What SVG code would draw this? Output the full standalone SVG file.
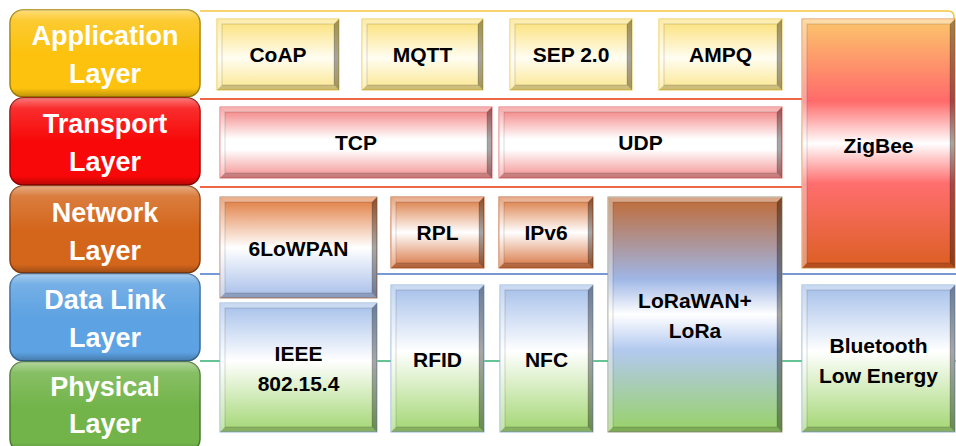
<svg xmlns="http://www.w3.org/2000/svg" width="956" height="446" viewBox="0 0 956 446">
<style>
.lt{font-family:"Liberation Sans",Arial,sans-serif;font-weight:bold;font-size:27px;fill:#fff;text-anchor:middle}
.bx{font-family:"Liberation Sans",Arial,sans-serif;font-weight:bold;font-size:21px;fill:#000;text-anchor:middle}
.bt{fill:#fff;opacity:.4}
.bl{fill:#fff;opacity:.35}
.br{fill:#000;opacity:.35}
.bb{fill:#000;opacity:.18}
.in{fill:none;stroke:#000;stroke-opacity:.15;stroke-width:1}
.gl{fill:url(#gloss)}
</style>
<defs>
<linearGradient id="gloss" x1="0" y1="0" x2="0" y2="1">
<stop offset="0" stop-color="#fff" stop-opacity=".45"/>
<stop offset=".12" stop-color="#fff" stop-opacity=".15"/>
<stop offset=".5" stop-color="#fff" stop-opacity="0"/>
<stop offset=".9" stop-color="#000" stop-opacity="0"/>
<stop offset="1" stop-color="#000" stop-opacity=".25"/>
</linearGradient>
<linearGradient id="gApp" x1="0" y1="0" x2="0" y2="1">
<stop offset="0" stop-color="#fbe074"/><stop offset=".55" stop-color="#fffdf2"/><stop offset="1" stop-color="#fbe68e"/>
</linearGradient>
<linearGradient id="gTr" x1="0" y1="0" x2="0" y2="1">
<stop offset="0" stop-color="#f27a7a"/><stop offset=".45" stop-color="#fff"/><stop offset=".6" stop-color="#fff"/><stop offset="1" stop-color="#f39090"/>
</linearGradient>
<linearGradient id="gNet" x1="0" y1="0" x2="0" y2="1">
<stop offset="0" stop-color="#d9763c"/><stop offset=".5" stop-color="#fff"/><stop offset="1" stop-color="#d87440"/>
</linearGradient>
<linearGradient id="g6" x1="0" y1="0" x2="0" y2="1">
<stop offset="0" stop-color="#e0783a"/><stop offset=".5" stop-color="#fff"/><stop offset="1" stop-color="#a6bde8"/>
</linearGradient>
<linearGradient id="gBG" x1="0" y1="0" x2="0" y2="1">
<stop offset="0" stop-color="#a4bfea"/><stop offset=".45" stop-color="#fff"/><stop offset="1" stop-color="#a2d672"/>
</linearGradient>
<linearGradient id="gLo" x1="0" y1="0" x2="0" y2="1">
<stop offset="0" stop-color="#c06a34"/><stop offset=".35" stop-color="#9fb6e6"/><stop offset=".5" stop-color="#fff"/><stop offset=".65" stop-color="#b3c9f0"/><stop offset="1" stop-color="#98d266"/>
</linearGradient>
<linearGradient id="gZb" x1="0" y1="0" x2="0" y2="1">
<stop offset="0" stop-color="#fcc66c"/><stop offset=".33" stop-color="#ff6a6a"/><stop offset=".5" stop-color="#fff"/><stop offset=".66" stop-color="#ff6e6e"/><stop offset="1" stop-color="#dc5f22"/>
</linearGradient>
</defs>
<rect width="956" height="446" fill="#fff"/>

<g id="layer-lines" fill="none" stroke-width="1.6">
<path d="M200 11 H948 Q954 11 954 17 V20" stroke="#f5c542"/>
<path d="M200 99 H802" stroke="#e8320a"/>
<path d="M200 187 H802" stroke="#e8320a"/>
<path d="M200 274 H956" stroke="#4a78c8"/>
<path d="M200 361 H956" stroke="#33b070"/>
</g>

<g id="application-layer">
<rect x="10" y="10" width="190" height="87" rx="13" fill="#fcc20e" stroke="#a88400" stroke-width="1.5"/>
<rect x="10" y="10" width="190" height="87" rx="13" class="gl"/>
<text class="lt" x="105" y="45">Application</text><text class="lt" x="105" y="83">Layer</text>
</g>
<g id="transport-layer">
<rect x="10" y="98" width="190" height="87" rx="13" fill="#f80808" stroke="#a00000" stroke-width="1.5"/>
<rect x="10" y="98" width="190" height="87" rx="13" class="gl"/>
<text class="lt" x="105" y="133">Transport</text><text class="lt" x="105" y="171">Layer</text>
</g>
<g id="network-layer">
<rect x="10" y="186" width="190" height="87" rx="13" fill="#d4661c" stroke="#8a4010" stroke-width="1.5"/>
<rect x="10" y="186" width="190" height="87" rx="13" class="gl"/>
<text class="lt" x="105" y="222">Network</text><text class="lt" x="105" y="260">Layer</text>
</g>
<g id="datalink-layer">
<rect x="10" y="274" width="190" height="87" rx="13" fill="#5da2e2" stroke="#3a6a9a" stroke-width="1.5"/>
<rect x="10" y="274" width="190" height="87" rx="13" class="gl"/>
<text class="lt" x="105" y="309">Data Link</text><text class="lt" x="105" y="347">Layer</text>
</g>
<g id="physical-layer">
<rect x="10" y="362" width="190" height="90" rx="13" fill="#72b44a" stroke="#4a7a30" stroke-width="1.5"/>
<rect x="10" y="362" width="190" height="90" rx="13" class="gl"/>
<text class="lt" x="105" y="396">Physical</text><text class="lt" x="105" y="433">Layer</text>
</g>

<g id="coap">
<rect x="217" y="19" width="122" height="71" fill="url(#gApp)" stroke="#e9c849"/>
<polygon class="bt" points="217,19 339,19 334,24 222,24"/><polygon class="bl" points="217,19 222,24 222,85 217,90"/><polygon class="br" points="339,19 339,90 334,85 334,24"/><polygon class="bb" points="217,90 222,85 334,85 339,90"/><rect class="in" x="222" y="24" width="112" height="61"/>
<text class="bx" x="278" y="62">CoAP</text>
</g>
<g id="mqtt">
<rect x="362" y="19" width="121" height="71" fill="url(#gApp)" stroke="#e9c849"/>
<polygon class="bt" points="362,19 483,19 478,24 367,24"/><polygon class="bl" points="362,19 367,24 367,85 362,90"/><polygon class="br" points="483,19 483,90 478,85 478,24"/><polygon class="bb" points="362,90 367,85 478,85 483,90"/><rect class="in" x="367" y="24" width="111" height="61"/>
<text class="bx" x="422.5" y="62">MQTT</text>
</g>
<g id="sep20">
<rect x="510" y="19" width="122" height="71" fill="url(#gApp)" stroke="#e9c849"/>
<polygon class="bt" points="510,19 632,19 627,24 515,24"/><polygon class="bl" points="510,19 515,24 515,85 510,90"/><polygon class="br" points="632,19 632,90 627,85 627,24"/><polygon class="bb" points="510,90 515,85 627,85 632,90"/><rect class="in" x="515" y="24" width="112" height="61"/>
<text class="bx" x="571" y="62">SEP 2.0</text>
</g>
<g id="ampq">
<rect x="659" y="19" width="123" height="71" fill="url(#gApp)" stroke="#e9c849"/>
<polygon class="bt" points="659,19 782,19 777,24 664,24"/><polygon class="bl" points="659,19 664,24 664,85 659,90"/><polygon class="br" points="782,19 782,90 777,85 777,24"/><polygon class="bb" points="659,90 664,85 777,85 782,90"/><rect class="in" x="664" y="24" width="113" height="61"/>
<text class="bx" x="720.5" y="62">AMPQ</text>
</g>
<g id="zigbee">
<rect x="802" y="19" width="153" height="249" fill="url(#gZb)" stroke="#e0904a"/>
<polygon class="bt" points="802,19 955,19 950,24 807,24"/><polygon class="bl" points="802,19 807,24 807,263 802,268"/><polygon class="br" points="955,19 955,268 950,263 950,24"/><polygon class="bb" points="802,268 807,263 950,263 955,268"/><rect class="in" x="807" y="24" width="143" height="239"/>
<text class="bx" x="878.5" y="153">ZigBee</text>
</g>
<g id="tcp">
<rect x="220" y="107" width="272" height="71" fill="url(#gTr)" stroke="#e07070"/>
<polygon class="bt" points="220,107 492,107 487,112 225,112"/><polygon class="bl" points="220,107 225,112 225,173 220,178"/><polygon class="br" points="492,107 492,178 487,173 487,112"/><polygon class="bb" points="220,178 225,173 487,173 492,178"/><rect class="in" x="225" y="112" width="262" height="61"/>
<text class="bx" x="356" y="150">TCP</text>
</g>
<g id="udp">
<rect x="499" y="107" width="283" height="71" fill="url(#gTr)" stroke="#e07070"/>
<polygon class="bt" points="499,107 782,107 777,112 504,112"/><polygon class="bl" points="499,107 504,112 504,173 499,178"/><polygon class="br" points="782,107 782,178 777,173 777,112"/><polygon class="bb" points="499,178 504,173 777,173 782,178"/><rect class="in" x="504" y="112" width="273" height="61"/>
<text class="bx" x="640.5" y="150">UDP</text>
</g>
<g id="sixlowpan">
<rect x="220" y="197" width="157" height="101" fill="url(#g6)" stroke="#b88060"/>
<polygon class="bt" points="220,197 377,197 372,202 225,202"/><polygon class="bl" points="220,197 225,202 225,293 220,298"/><polygon class="br" points="377,197 377,298 372,293 372,202"/><polygon class="bb" points="220,298 225,293 372,293 377,298"/><rect class="in" x="225" y="202" width="147" height="91"/>
<text class="bx" x="298.5" y="256">6LoWPAN</text>
</g>
<g id="rpl">
<rect x="391" y="197" width="93" height="71" fill="url(#gNet)" stroke="#c06030"/>
<polygon class="bt" points="391,197 484,197 479,202 396,202"/><polygon class="bl" points="391,197 396,202 396,263 391,268"/><polygon class="br" points="484,197 484,268 479,263 479,202"/><polygon class="bb" points="391,268 396,263 479,263 484,268"/><rect class="in" x="396" y="202" width="83" height="61"/>
<text class="bx" x="437.5" y="240">RPL</text>
</g>
<g id="ipv6">
<rect x="499" y="197" width="94" height="71" fill="url(#gNet)" stroke="#c06030"/>
<polygon class="bt" points="499,197 593,197 588,202 504,202"/><polygon class="bl" points="499,197 504,202 504,263 499,268"/><polygon class="br" points="593,197 593,268 588,263 588,202"/><polygon class="bb" points="499,268 504,263 588,263 593,268"/><rect class="in" x="504" y="202" width="84" height="61"/>
<text class="bx" x="546" y="240">IPv6</text>
</g>
<g id="lorawan">
<rect x="608" y="197" width="174" height="235" fill="url(#gLo)" stroke="#9a9a80"/>
<polygon class="bt" points="608,197 782,197 777,202 613,202"/><polygon class="bl" points="608,197 613,202 613,427 608,432"/><polygon class="br" points="782,197 782,432 777,427 777,202"/><polygon class="bb" points="608,432 613,427 777,427 782,432"/><rect class="in" x="613" y="202" width="164" height="225"/>
<text class="bx" x="695" y="308">LoRaWAN+</text><text class="bx" x="695" y="338">LoRa</text>
</g>
<g id="ieee802154">
<rect x="220" y="303" width="157" height="129" fill="url(#gBG)" stroke="#90b4d8"/>
<polygon class="bt" points="220,303 377,303 372,308 225,308"/><polygon class="bl" points="220,303 225,308 225,427 220,432"/><polygon class="br" points="377,303 377,432 372,427 372,308"/><polygon class="bb" points="220,432 225,427 372,427 377,432"/><rect class="in" x="225" y="308" width="147" height="119"/>
<text class="bx" x="298.5" y="361">IEEE</text><text class="bx" x="298.5" y="391">802.15.4</text>
</g>
<g id="rfid">
<rect x="391" y="285" width="93" height="147" fill="url(#gBG)" stroke="#90b4d8"/>
<polygon class="bt" points="391,285 484,285 479,290 396,290"/><polygon class="bl" points="391,285 396,290 396,427 391,432"/><polygon class="br" points="484,285 484,432 479,427 479,290"/><polygon class="bb" points="391,432 396,427 479,427 484,432"/><rect class="in" x="396" y="290" width="83" height="137"/>
<text class="bx" x="437.5" y="367">RFID</text>
</g>
<g id="nfc">
<rect x="500" y="285" width="93" height="147" fill="url(#gBG)" stroke="#90b4d8"/>
<polygon class="bt" points="500,285 593,285 588,290 505,290"/><polygon class="bl" points="500,285 505,290 505,427 500,432"/><polygon class="br" points="593,285 593,432 588,427 588,290"/><polygon class="bb" points="500,432 505,427 588,427 593,432"/><rect class="in" x="505" y="290" width="83" height="137"/>
<text class="bx" x="546.5" y="367">NFC</text>
</g>
<g id="ble">
<rect x="802" y="285" width="153" height="147" fill="url(#gBG)" stroke="#90b4d8"/>
<polygon class="bt" points="802,285 955,285 950,290 807,290"/><polygon class="bl" points="802,285 807,290 807,427 802,432"/><polygon class="br" points="955,285 955,432 950,427 950,290"/><polygon class="bb" points="802,432 807,427 950,427 955,432"/><rect class="in" x="807" y="290" width="143" height="137"/>
<text class="bx" x="878.5" y="353">Bluetooth</text><text class="bx" x="878.5" y="383">Low Energy</text>
</g>
</svg>
